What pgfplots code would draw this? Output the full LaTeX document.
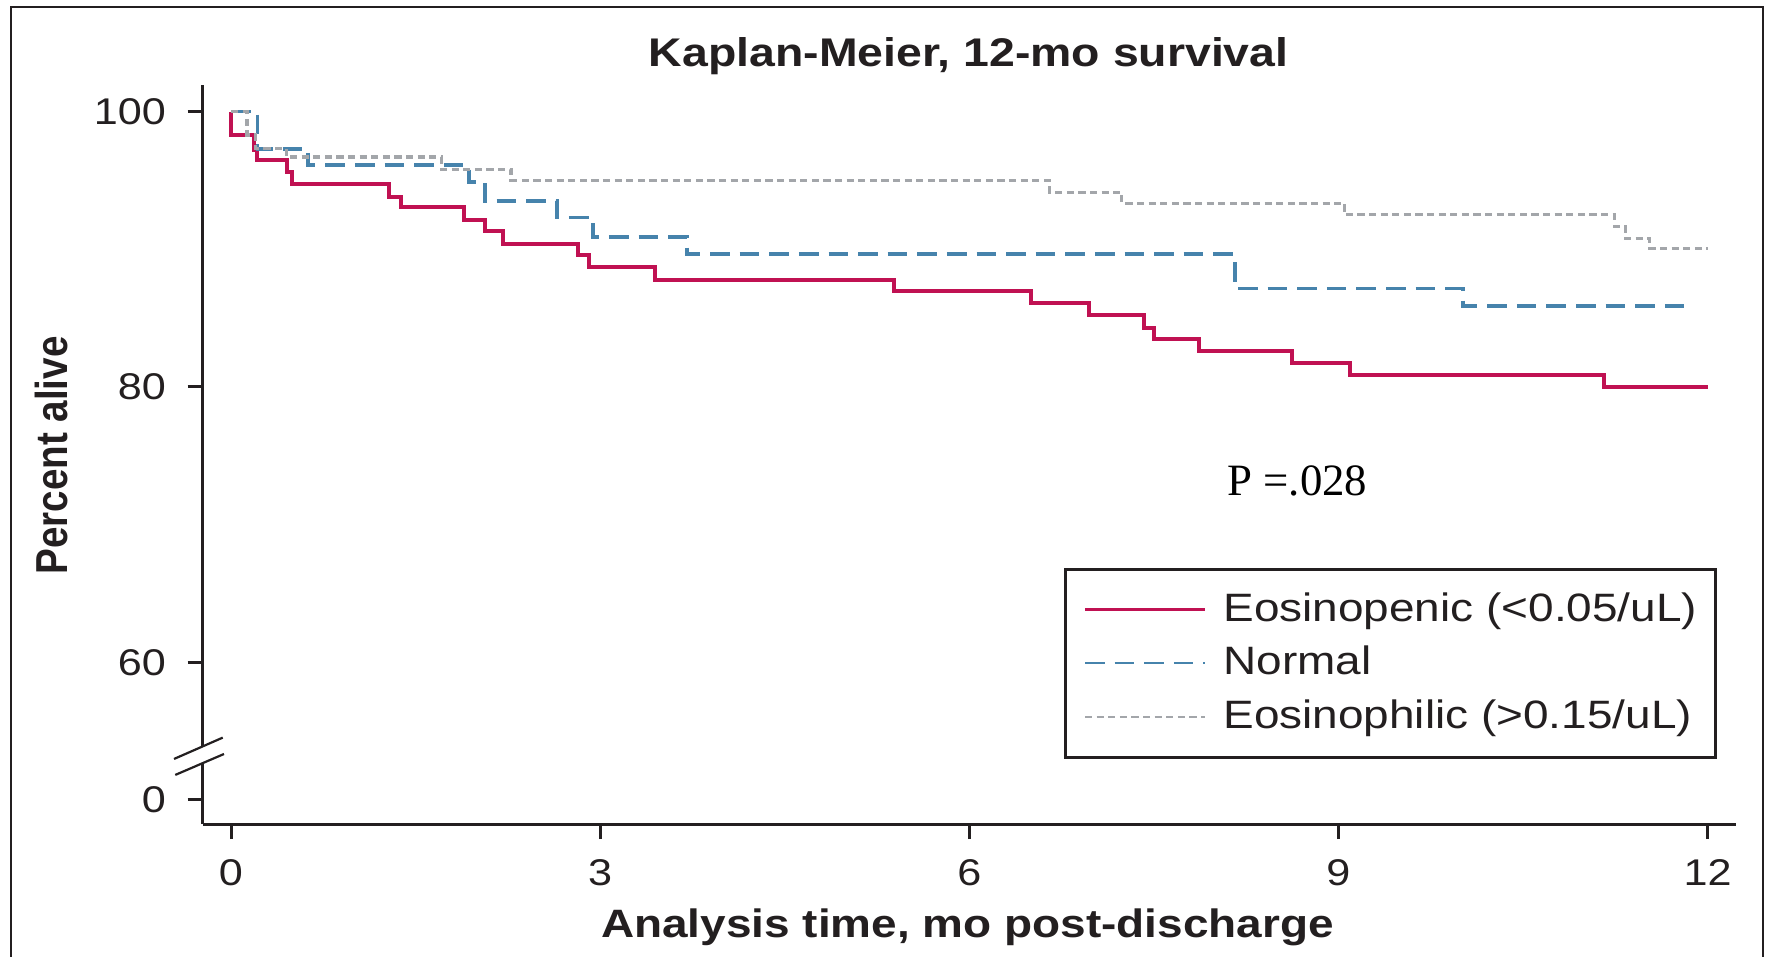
\documentclass[border=0pt]{standalone}
\usepackage{pgfplots}
\pgfplotsset{compat=1.18}
\usepackage{fontspec}
\setmainfont{Liberation Sans}[FakeStretch=1.16]
\newfontfamily\plainsans{Liberation Sans}
\newfontfamily\pserif{Liberation Serif}

\definecolor{eopen}{RGB}{192,17,82}
\definecolor{normal}{RGB}{70,131,172}
\definecolor{ephil}{RGB}{163,166,170}
\definecolor{ink}{RGB}{35,31,32}

\newcommand\tickfont{\fontsize{9.3pt}{11pt}\selectfont}
\newcommand\legfont{\fontsize{9.9pt}{12pt}\selectfont}

\begin{document}
\begin{tikzpicture}
\useasboundingbox (-50.675pt,-32.95pt) rectangle (395.575pt,206.05pt);
% outer frame (bottom edge is cut off in the original)
\draw[ink, line width=0.5pt] (-47.925pt,-40pt) -- (-47.925pt,204.3pt) -- (390.075pt,204.3pt) -- (390.075pt,-40pt);

\begin{axis}[
    at={(0pt,0pt)}, anchor=south west,
    scale only axis,
    width=383.3pt, height=184.7pt,
    xmin=-0.23, xmax=12.23,
    ymin=48.24, ymax=101.9,
    enlargelimits=false,
    axis lines=left,
    axis line style={-, line width=0.7pt, ink},
    tick align=outside,
    major tick length=3.75pt,
    every tick/.style={ink, line width=0.75pt},
    xtick={0,3,6,9,12}, xticklabels={0,3,6,9,12},
    ytick={50,60,80,100}, yticklabels={0,60,80,100},
    ticklabel style={font=\tickfont, text=ink},
    xticklabel style={yshift=-1.6pt},
    yticklabel style={xshift=-1.9pt},
    legend style={at={(0.562,0.3468)}, anchor=north west,
        draw=ink, line width=0.75pt, fill=white,
        inner xsep=4.5pt, inner ysep=4.6pt, row sep=2.5pt, column sep=4.3pt,
        font=\legfont, text=ink,
        nodes={inner sep=0pt, text height=8.3pt, text depth=2.6pt},
        cells={anchor=west}},
    legend image code/.code={\draw[#1, line width=0.6pt] (0pt,0pt) -- (30pt,0pt);},
]
% Eosinopenic (<0.05/uL)
\addplot[const plot, eopen, line width=1pt] coordinates {
 (0,100) (0,98.3) (0.183,97.2) (0.208,96.5) (0.457,95.6) (0.497,94.75)
 (1.281,93.8) (1.38,93.1) (1.894,92.1) (2.064,91.3) (2.214,90.4)
 (2.82,89.6) (2.913,88.7) (3.448,87.8) (5.39,87.0) (6.50,86.1)
 (6.97,85.25) (7.42,84.3) (7.50,83.5) (7.87,82.6) (8.62,81.75)
 (9.09,80.9) (11.16,80.0) (12.0,80.0)};
\addlegendentry{Eosinopenic (<0.05/uL)}
% Normal
\addplot[const plot, normal, line width=0.95pt, dash pattern=on 4.9pt off 2.5pt] coordinates {
 (0,100) (0.215,97.3) (0.627,96.1) (1.934,94.9) (2.064,93.5) (2.65,92.3)
 (2.94,90.9) (3.706,89.65) (8.157,87.15) (10.01,85.9) (11.88,85.9)};
\addlegendentry{Normal}
% Eosinophilic (>0.15/uL)
\addplot[const plot, ephil, line width=0.8pt, dash pattern=on 1.8pt off 1.1pt] coordinates {
 (0,100) (0.13,98.3) (0.2,97.3) (0.45,96.7) (1.71,95.8) (2.276,95.0)
 (6.65,94.15) (7.24,93.35) (9.05,92.5) (11.24,91.65) (11.33,90.8)
 (11.53,90.05) (12.0,90.05)};
\addlegendentry{Eosinophilic (>0.15/uL)}

\coordinate (gapA) at (axis cs:-0.23,52.68);
\coordinate (gapB) at (axis cs:-0.23,53.89);
\coordinate (u1) at (axis cs:-0.463,52.98);
\coordinate (u2) at (axis cs:-0.067,54.53);
\coordinate (l1) at (axis cs:-0.453,51.82);
\coordinate (l2) at (axis cs:-0.057,53.34);
\end{axis}

% axis break
\draw[white, line width=3pt] (gapA) -- (gapB);
\draw[ink, line width=0.55pt] (u1) -- (u2);
\draw[ink, line width=0.55pt] (l1) -- (l2);

\node[anchor=base, text=ink, font=\fontsize{10pt}{12pt}\selectfont\bfseries] at (191.5pt,189.55pt) {Kaplan-Meier, 12-mo survival};
\node[anchor=base, text=ink, font=\fontsize{9.9pt}{12pt}\selectfont\bfseries] at (191.2pt,-28.2pt) {Analysis time, mo post-discharge};
\node[rotate=90, anchor=base, text=ink, inner sep=0pt] at (-33.7pt,92.2pt) {\plainsans\bfseries\fontsize{9.65pt}{12pt}\selectfont\scalebox{1}[1.16]{Percent alive}};
\node[anchor=base west, text=black, inner sep=0pt, font=\pserif\fontsize{11.2pt}{13pt}\selectfont] at (256pt,82.3pt) {P =.028};
\end{tikzpicture}
\end{document}
